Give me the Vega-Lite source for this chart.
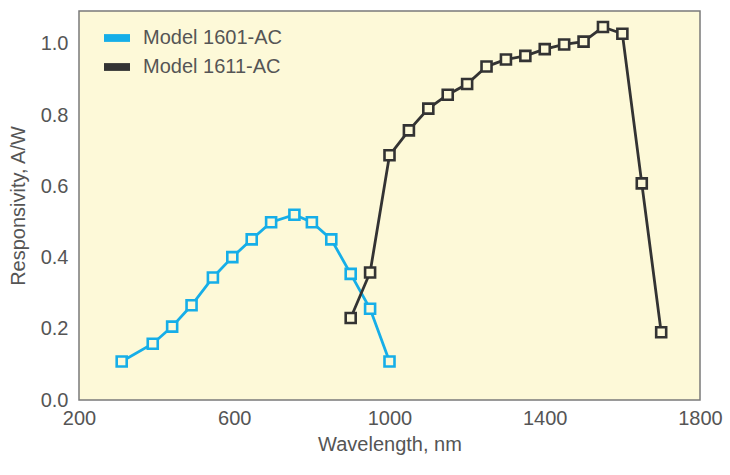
{
  "$schema": "https://vega.github.io/schema/vega-lite/v6.json",
  "autosize": "none",
  "width": 621,
  "height": 389,
  "padding": {"left": 79, "top": 11, "right": 30, "bottom": 75},
  "background": "#ffffff",
  "config": {
    "font": "Liberation Sans",
    "view": {"fill": "#fdf9d8", "stroke": "#7a7a7a", "strokeWidth": 1.5},
    "axis": {
      "grid": false,
      "ticks": false,
      "domain": false,
      "labelFont": "Liberation Sans",
      "labelFontSize": 20,
      "labelColor": "#555555",
      "titleFont": "Liberation Sans",
      "titleFontSize": 20,
      "titleFontWeight": "normal",
      "titleColor": "#555555"
    },
    "legend": {
      "labelFont": "Liberation Sans",
      "labelFontSize": 20,
      "labelColor": "#555555"
    }
  },
  "data": {
    "values": [
      {"series": "Model 1601-AC", "wl": 310, "r": 0.108},
      {"series": "Model 1601-AC", "wl": 390, "r": 0.158},
      {"series": "Model 1601-AC", "wl": 440, "r": 0.206},
      {"series": "Model 1601-AC", "wl": 490, "r": 0.266},
      {"series": "Model 1601-AC", "wl": 545, "r": 0.344},
      {"series": "Model 1601-AC", "wl": 595, "r": 0.401},
      {"series": "Model 1601-AC", "wl": 645, "r": 0.451},
      {"series": "Model 1601-AC", "wl": 695, "r": 0.499},
      {"series": "Model 1601-AC", "wl": 755, "r": 0.52},
      {"series": "Model 1601-AC", "wl": 800, "r": 0.499},
      {"series": "Model 1601-AC", "wl": 850, "r": 0.451},
      {"series": "Model 1601-AC", "wl": 900, "r": 0.354},
      {"series": "Model 1601-AC", "wl": 950, "r": 0.256},
      {"series": "Model 1601-AC", "wl": 1000, "r": 0.108},
      {"series": "Model 1611-AC", "wl": 900, "r": 0.23},
      {"series": "Model 1611-AC", "wl": 950, "r": 0.358},
      {"series": "Model 1611-AC", "wl": 1000, "r": 0.687},
      {"series": "Model 1611-AC", "wl": 1050, "r": 0.757},
      {"series": "Model 1611-AC", "wl": 1100, "r": 0.818},
      {"series": "Model 1611-AC", "wl": 1150, "r": 0.857},
      {"series": "Model 1611-AC", "wl": 1200, "r": 0.887},
      {"series": "Model 1611-AC", "wl": 1250, "r": 0.936},
      {"series": "Model 1611-AC", "wl": 1300, "r": 0.956},
      {"series": "Model 1611-AC", "wl": 1350, "r": 0.966},
      {"series": "Model 1611-AC", "wl": 1400, "r": 0.985},
      {"series": "Model 1611-AC", "wl": 1450, "r": 0.998},
      {"series": "Model 1611-AC", "wl": 1500, "r": 1.006},
      {"series": "Model 1611-AC", "wl": 1550, "r": 1.047},
      {"series": "Model 1611-AC", "wl": 1600, "r": 1.028},
      {"series": "Model 1611-AC", "wl": 1650, "r": 0.608},
      {"series": "Model 1611-AC", "wl": 1700, "r": 0.19}
    ]
  },
  "encoding": {
    "x": {
      "field": "wl",
      "type": "quantitative",
      "title": "Wavelength, nm",
      "scale": {"domain": [200, 1800], "nice": false, "zero": false},
      "axis": {"values": [200, 600, 1000, 1400, 1800], "format": "d", "labelPadding": 8, "titlePadding": 6, "labelFlush": false}
    },
    "y": {
      "field": "r",
      "type": "quantitative",
      "title": "Responsivity, A/W",
      "scale": {"domain": [0, 1.092], "nice": false},
      "axis": {"values": [0, 0.2, 0.4, 0.6, 0.8, 1.0], "format": ".1f", "labelPadding": 11, "titlePadding": 12, "labelFlush": false}
    },
    "color": {
      "field": "series",
      "type": "nominal",
      "scale": {"domain": ["Model 1601-AC", "Model 1611-AC"], "range": ["#16aee8", "#333333"]}
    }
  },
  "layer": [
    {
      "mark": {"type": "line", "strokeWidth": 2.8},
      "encoding": {
        "color": {
          "field": "series",
          "type": "nominal",
          "scale": {"domain": ["Model 1601-AC", "Model 1611-AC"], "range": ["#16aee8", "#333333"]},
          "legend": {
            "title": null,
            "orient": "none",
            "legendX": 25,
            "legendY": 14,
            "symbolType": "M-1,-0.3H1V0.3H-1Z",
            "symbolSize": 676,
            "symbolStrokeWidth": 0,
            "labelOffset": 13,
            "rowPadding": 6,
            "encode": {
              "symbols": {
                "update": {
                  "fill": {"scale": "color", "field": "value"},
                  "fillOpacity": {"value": 1},
                  "strokeWidth": {"value": 0}
                }
              }
            }
          }
        }
      }
    },
    {
      "mark": {"type": "point", "shape": "square", "filled": false, "fill": "#fdf9d8", "fillOpacity": 1, "size": 100, "strokeWidth": 2.6, "opacity": 1},
      "encoding": {}
    }
  ]
}
